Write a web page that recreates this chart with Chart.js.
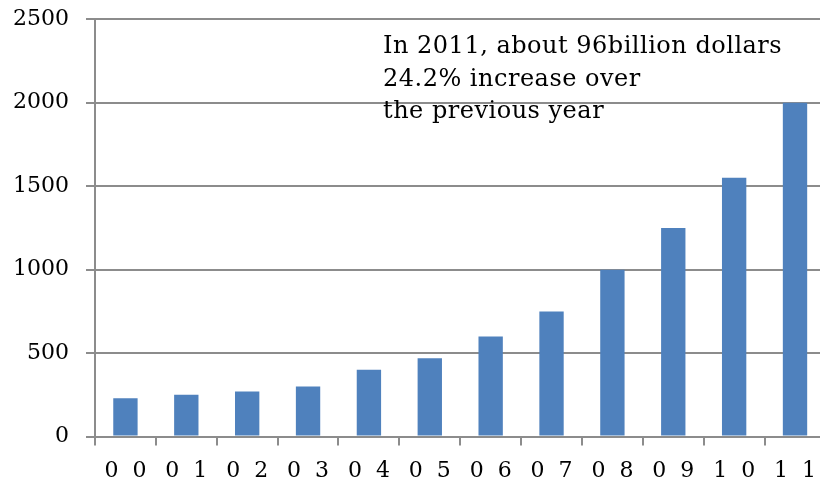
<!DOCTYPE html>
<html>
<head>
<meta charset="utf-8">
<script src="https://cdn.jsdelivr.net/npm/chart.js@4/dist/chart.umd.min.js"></script>
<style>
  html, body { margin: 0; padding: 0; background: #fff; overflow: hidden; }
  #wrap { position: absolute; left: 0; top: -11px; width: 828px; height: 507px; }
</style>
</head>
<body>
<div id="wrap"><canvas id="chart"></canvas></div>
<script>
// data
const years = ['0  0', '0  1', '0  2', '0  3', '0  4', '0  5', '0  6', '0  7', '0  8', '0  9', '1  0', '1  1'];
const amounts = [230, 250, 270, 300, 400, 470, 600, 750, 1000, 1250, 1550, 2000];
const noteLines = ['In 2011, about 96billion dollars', '24.2% increase over', 'the previous year'];

const FONT = "'DejaVu Serif', 'Liberation Serif', serif";
const GRID = '#8c8c8c';

// draws the note in the upper right of the plot
const notePlugin = {
    id: 'note',
    afterDraw(chart) {
        const ctx = chart.ctx;
        const area = chart.chartArea;
        ctx.save();
        ctx.font = '24px ' + FONT;
        ctx.letterSpacing = '0.5px';
        ctx.fillStyle = '#000';
        ctx.textBaseline = 'alphabetic';
        noteLines.forEach((line, i) => {
            ctx.fillText(line, area.left + 288, area.top + 34 + i * 32.5);
        });
        ctx.restore();
    }
};

new Chart(document.getElementById('chart'), {
    type: 'bar',
    data: {
        labels: years,
        datasets: [{
            data: amounts,
            backgroundColor: '#4f81bd',
            borderWidth: 0,
            barPercentage: 0.4,
            categoryPercentage: 1.0
        }]
    },
    options: {
        responsive: true,
        maintainAspectRatio: false,
        animation: false,
        layout: { padding: { top: -3, left: 0, right: 0, bottom: 0 } },
        plugins: {
            legend: { display: false },
            tooltip: { enabled: false }
        },
        scales: {
            x: {
                offset: true,
                grid: {
                    offset: true,
                    drawOnChartArea: false,
                    color: GRID,
                    lineWidth: 2,
                    tickLength: 9
                },
                border: { color: GRID, width: 2 },
                ticks: {
                    color: '#000',
                    font: { family: FONT, size: 22 },
                    padding: 12,
                    maxRotation: 0,
                    autoSkip: false
                }
            },
            y: {
                min: 0,
                max: 2500,
                afterFit(scale) { scale.width = 95; },
                ticks: {
                    stepSize: 500,
                    color: '#000',
                    font: { family: FONT, size: 22 },
                    padding: 17,
                    callback: (v) => String(v)
                },
                grid: {
                    color: GRID,
                    lineWidth: 2,
                    tickLength: 9
                },
                border: { color: GRID, width: 2 }
            }
        }
    },
    plugins: [notePlugin]
});
</script>
</body>
</html>
